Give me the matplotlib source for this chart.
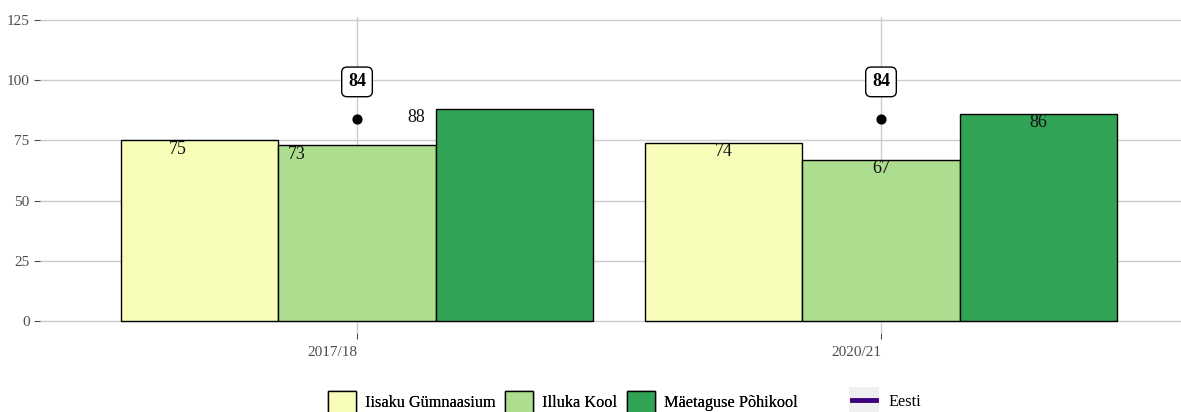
import matplotlib.pyplot as plt
from matplotlib.patches import Patch, Rectangle
from matplotlib.lines import Line2D
import numpy as np

plt.rcParams['font.family'] = ['Liberation Serif', 'DejaVu Serif']

# Data
years = ['2017/18', '2020/21']
schools = ['Iisaku Gümnaasium', 'Illuka Kool', 'Mäetaguse Põhikool']
values = {
    'Iisaku Gümnaasium': [75, 74],
    'Illuka Kool': [73, 67],
    'Mäetaguse Põhikool': [88, 86],
}
eesti = [84, 84]

colors = ['#f7fcb9', '#addd8e', '#31a354']
eesti_color = '#3f007d'
grid_col = '#cccccc'
tick_col = '#4d4d4d'

# bar dodge offsets and the (slightly shifted) label offsets seen in the picture
bar_off = [-0.3, 0.0, 0.3]
label_off = [[-0.342, -0.3], [-0.115, 0.0], [0.113, 0.3]]

W, H = 1181, 412
fig = plt.figure(figsize=(W / 100, H / 100), dpi=100)
ax = fig.add_axes([40 / W, (H - 333) / H, 1 - 40 / W, (333 - 17) / H])

x = np.arange(1, len(years) + 1)

for i, s in enumerate(schools):
    ax.bar(x + bar_off[i], values[s], width=0.3, color=colors[i],
           edgecolor='black', linewidth=1, zorder=2)
    for j, v in enumerate(values[s]):
        ax.text(x[j] + label_off[i][j], v - 3.7, str(v), ha='center', va='center',
                fontsize=13, color='#111111', zorder=4)

ax.scatter(x, eesti, s=40, color='black', zorder=5)
for j, v in enumerate(eesti):
    ax.text(x[j], v + 15.3, str(v), ha='center', va='center', fontsize=13,
            fontweight='bold', zorder=6,
            bbox=dict(boxstyle='round,pad=0.35,rounding_size=0.3', fc='white',
                      ec='black', lw=1))

ax.set_xlim(0.395, 2.5725)
ax.set_ylim(-5, 126.25)
ax.set_yticks([0, 25, 50, 75, 100, 125])
ax.set_xticks(x)
ax.set_xticklabels(years, ha='right')
ax.grid(True, color=grid_col, linewidth=1)
ax.set_axisbelow(True)
for sp in ax.spines.values():
    sp.set_visible(False)
ax.tick_params(axis='both', colors=tick_col, labelcolor=tick_col, length=4,
               labelsize=11, width=0.8)
ax.tick_params(axis='x', pad=5)

# legends
fs = 11.7
fill_handles = [Patch(facecolor=colors[i], edgecolor='black', linewidth=1, label=s)
                for i, s in enumerate(schools)]
leg1 = fig.legend(handles=fill_handles, loc='center left', ncol=3,
                  bbox_to_anchor=(328 / W, (H - 402) / H), frameon=False,
                  fontsize=fs, borderpad=0, borderaxespad=0,
                  handlelength=1.72, handleheight=1.72, handletextpad=0.55,
                  columnspacing=0.6)
fig.add_artist(Rectangle((849 / W, (H - 417) / H), 30 / W, 30 / H,
                         transform=fig.transFigure, facecolor='#f0f0f0',
                         edgecolor='none', zorder=0))
line_handle = [Line2D([0], [0], color=eesti_color, lw=3.5, label='Eesti')]
leg2 = fig.legend(handles=line_handle, loc='center left',
                  bbox_to_anchor=(852 / W, (H - 402) / H), frameon=False,
                  fontsize=fs, borderpad=0, borderaxespad=0,
                  handlelength=1.5, handletextpad=0.74)
fig.add_artist(leg1)

fig.savefig('out.png', dpi=100)
